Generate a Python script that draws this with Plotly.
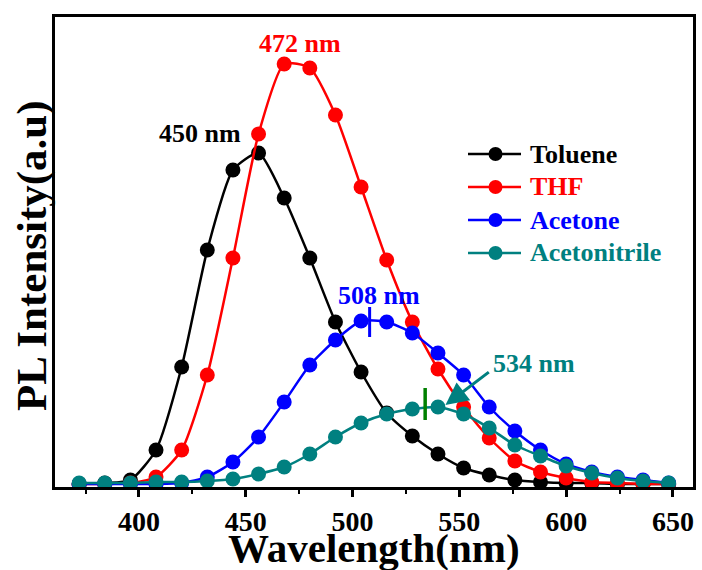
import plotly.graph_objects as go

# Emission wavelengths (nm) at the sampled points
wavelength = [372, 384, 396, 408, 420, 432, 444, 456, 468, 480, 492, 504,
              516, 528, 540, 552, 564, 576, 588, 600, 612, 624, 636, 648]

# PL intensity (a.u.) for each solvent
toluene = [0, 1, 4, 34, 117, 234, 314, 331, 286, 226, 162, 112,
           71, 48, 30, 16, 9, 4, 2, 1, 1, 0, 0, 0]
thf = [0, 0, 1, 7, 34, 109, 226, 350, 420, 416, 369, 297,
       224, 162, 115, 77, 46, 23, 12, 6, 2, 1, 0, 0]
acetone = [0, 0, 0, 0, 1, 7, 22, 47, 82, 119, 144, 163,
           162, 151, 131, 109, 77, 53, 34, 20, 12, 7, 4, 1]
acetonitrile = [1, 1, 1, 2, 2, 3, 5, 10, 17, 30, 47, 61,
                70, 75, 77, 70, 56, 39, 28, 18, 11, 6, 3, 1]

solvents = ["Toluene", "THF", "Acetone", "Acetonitrile"]
colors = ["#000000", "#FF0000", "#0000FF", "#008080"]
series = [toluene, thf, acetone, acetonitrile]

# Emission maxima (nm)
peak_wl = [450, 472, 508, 534]

FONT = "Liberation Serif"
W, H = 702, 570
ML, MR, MT, MB = 55, 9, 17, 83
PW, PH = W - ML - MR, H - MT - MB


def px_to_paper(px, py):
    return (px - ML) / PW, 1 - (py - MT) / PH


fig = go.Figure()
for name, col, ys in zip(solvents, colors, series):
    fig.add_trace(go.Scatter(
        x=wavelength, y=ys, mode="lines+markers", name=name,
        showlegend=False,
        line=dict(color=col, width=2.5, shape="spline", smoothing=0.6),
        marker=dict(color=col, size=15, line=dict(width=0)),
    ))

# Peak labels
label_pos = [(428.5, 351), (475.5, 441), (512.5, 189), (585, 121)]
for wl, col, (lx, ly) in zip(peak_wl, colors, label_pos):
    fig.add_annotation(x=lx, y=ly, xref="x", yref="y", showarrow=False,
                       text=f"{wl} nm",
                       font=dict(family=FONT, size=26, color=col, weight="bold"))

# Peak markers on the Acetone and Acetonitrile curves
fig.add_shape(type="line", xref="x", yref="y", x0=peak_wl[2], x1=peak_wl[2],
              y0=147, y1=177, line=dict(color="#0000FF", width=3))
fig.add_shape(type="line", xref="x", yref="y", x0=peak_wl[3], x1=peak_wl[3],
              y0=64, y1=96, line=dict(color="#008000", width=3.5))

# Arrow pointing at the Acetonitrile maximum
fig.add_annotation(x=543.5, y=79, ax=564.5, ay=113, xref="x", yref="y",
                   axref="x", ayref="y", showarrow=True, text="",
                   arrowhead=2, arrowsize=1.5, arrowwidth=3, standoff=0,
                   arrowcolor="#008080")

# Legend: line + dot sample followed by a coloured label
legend_rows = [154, 187, 220, 253]
for name, col, ry in zip(solvents, colors, legend_rows):
    x0, yy = px_to_paper(468, ry)
    x1, _ = px_to_paper(521, ry)
    xm, _ = px_to_paper(495.5, ry)
    xt, _ = px_to_paper(528, ry)
    fig.add_shape(type="line", xref="paper", yref="paper",
                  x0=x0, x1=x1, y0=yy, y1=yy, line=dict(color=col, width=2.5))
    fig.add_shape(type="circle", xref="paper", yref="paper",
                  xsizemode="pixel", ysizemode="pixel",
                  xanchor=xm, yanchor=yy, x0=-7, x1=7, y0=-7, y1=7,
                  fillcolor=col, line=dict(width=0))
    fig.add_annotation(x=xt, y=yy, xref="paper", yref="paper",
                       xanchor="left", yanchor="middle", showarrow=False,
                       text=name,
                       font=dict(family=FONT, size=26, color=col, weight="bold"))

# Axis titles
ty_x, ty_y = px_to_paper(32, 256)
fig.add_annotation(x=ty_x, y=ty_y, xref="paper", yref="paper",
                   showarrow=False, textangle=-90, text="PL Intensity(a.u)",
                   xanchor="center", yanchor="middle",
                   font=dict(family=FONT, size=43, color="black", weight="bold"))
tx_x, tx_y = px_to_paper(374, 548)
fig.add_annotation(x=tx_x, y=tx_y, xref="paper", yref="paper",
                   showarrow=False, text="Wavelength(nm)",
                   xanchor="center", yanchor="middle",
                   font=dict(family=FONT, size=41, color="black", weight="bold"))

fig.update_layout(
    width=W, height=H,
    margin=dict(l=ML, r=MR, t=MT, b=MB, autoexpand=False),
    paper_bgcolor="white", plot_bgcolor="white",
    font=dict(family=FONT, color="black", weight="bold"),
    showlegend=False,
)

fig.update_xaxes(
    range=[360.7, 659.4], showgrid=False, zeroline=False, automargin=False,
    showline=True, linecolor="black", linewidth=3, mirror=True,
    ticks="outside", ticklen=7, tickwidth=3, tickcolor="black",
    tickvals=[400, 450, 500, 550, 600, 650],
    minor=dict(ticks="outside", ticklen=4, tickwidth=2, tickcolor="black",
               tickvals=[375, 425, 475, 525, 575, 625]),
    tickfont=dict(family=FONT, size=28, color="black", weight="bold"),
)
fig.update_yaxes(
    range=[-3, 467], showgrid=False, zeroline=False, automargin=False,
    showline=True, linecolor="black", linewidth=3, mirror=True,
    ticks="", showticklabels=False,
)

fig.write_html("out.html")
